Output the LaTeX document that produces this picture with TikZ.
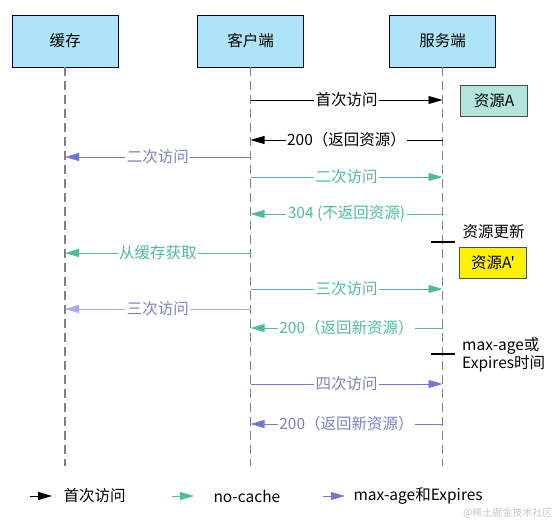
\documentclass[tikz,border=0pt]{standalone}
\usepackage{fontspec}
\setmainfont{Noto Sans CJK SC}
\newfontfamily\plainfont{Noto Sans CJK SC}
\usepackage{xcolor}
\usepackage{tikz}
\usetikzlibrary{positioning}
\usetikzlibrary{arrows.meta}
\definecolor{headfill}{HTML}{AEE4F7}
\definecolor{nocache}{HTML}{4DBD9E}
\definecolor{maxage}{HTML}{6E78D8}
\definecolor{maxagetext}{HTML}{7C82C2}
\definecolor{cachelite}{HTML}{A8ABF2}
\definecolor{resfill}{HTML}{B2E5DC}

\begin{document}
\begin{tikzpicture} [x = 1pt, y = -1pt, font = \fontsize{15.5}{18}\selectfont, head/.style = {draw = black!80!blue, fill = headfill, minimum width = 106pt, minimum height = 52pt}, life/.style = {draw = black!50, dash pattern = on 9pt off 5pt, line width = 1.5pt}, msg/.style = {-{Triangle[length = 14pt, width = 8pt]}, line width = 0.8pt}, lbl/.style = {fill = white, inner sep = 1.5pt}, res/.style = {draw = black!70, minimum width = 67pt, minimum height = 31pt}, tick/.style = {line width = 1.4pt}]
			\useasboundingbox (0,0) rectangle (558,524);
			\node[head] (cache) at (65,41) {缓存};
			\node[head] (client) at (250.5,41) {客户端};
			\node[head] (server) at (442.5,41) {服务端};
			\foreach \i in {cache, client, server} {
					\coordinate (\i end) at (\i.south |- 0,466);
					\draw[life] (\i.south) -- (\i end);
				}
			\foreach \y/\a/\b/\c/\t/\txt in {100/client/server/black/black/首次访问, 140/server/client/black/black/200（返回资源）, 157/client/cache/maxage/maxagetext/二次访问, 177/client/server/nocache/nocache/二次访问, 214/server/client/nocache/nocache/304 (不返回资源), 253/client/cache/nocache/nocache/从缓存获取, 289/client/server/nocache/nocache/三次访问, 309/client/cache/cachelite/maxagetext/三次访问, 328/server/client/nocache/nocache/200（返回新资源）, 384/client/server/maxage/maxagetext/四次访问, 424/server/client/maxage/maxagetext/200（返回新资源）} {
					\coordinate (\a\y) at (\a.south |- 0,\y);
					\coordinate (\b\y) at (\b.south |- 0,\y);
					\draw[msg, draw = \c] (\a\y) -- node[lbl, text = \t] {\txt} (\b\y);
				}
			\node[res, fill = resfill] (resA) at (494,101) {资源A};
			\coordinate (update) at (server.south |- 0,242);
			\draw[tick] ([xshift = -12pt] update) -- ([xshift = 12pt] update);
			\node[anchor = west] (updlbl) at (459,232) {资源更新};
			\node[res, fill = yellow] (resB) at (493,263) {资源{\plainfont A'}};
			\coordinate (expire) at (server.south |- 0,354);
			\draw[tick] ([xshift = -12pt] expire) -- ([xshift = 12pt] expire);
			\node[anchor = west, align = left, inner sep = 2pt] (explbl) at (460,355) {max-age或\\Expires时间};
			\foreach \x/\c/\d/\txt in {30/black/60/首次访问, 172/nocache/210/no-cache, 323/maxage/350/max-age和Expires} {
					\coordinate (leg\x) at (\x,496);
					\coordinate (legend\x) at (\x+22,496);
					\draw[msg, draw = \c] (leg\x) -- (legend\x);
					\node[anchor = west] (legtxt\x) at (\d,496) {\txt};
				}
			\node[text = gray!45, font = \fontsize{10}{12}\selectfont, anchor = east] (mark) at (556,513) {@稀土掘金技术社区};
		\end{tikzpicture}
\end{document}
